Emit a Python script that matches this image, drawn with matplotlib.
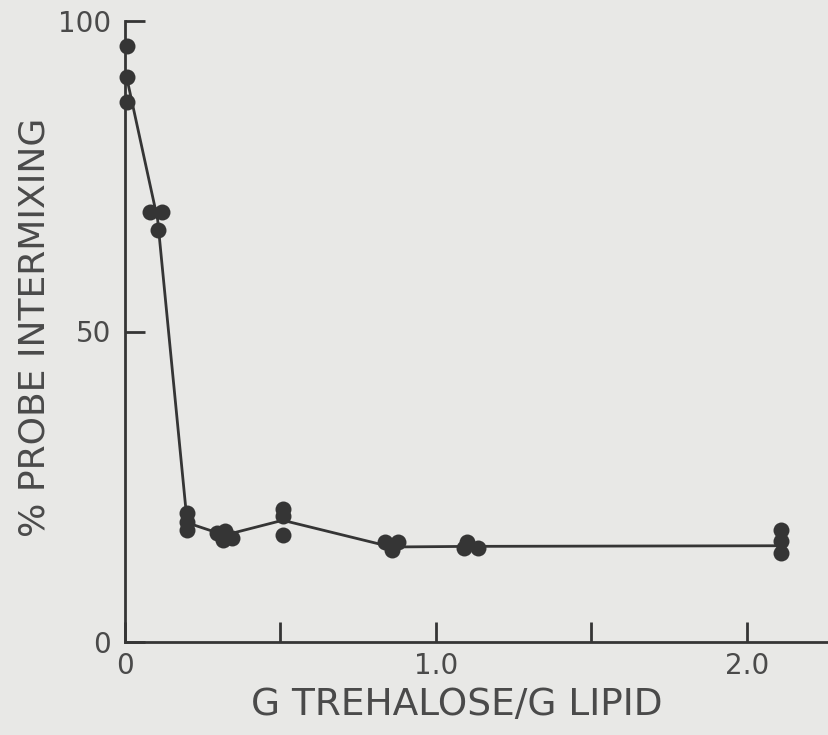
import matplotlib
matplotlib.use("Agg")
import matplotlib.pyplot as plt
import numpy as np

# individual measurements (g trehalose / g lipid, % probe intermixing)
pts_x = [0.005, 0.005, 0.005,
         0.08, 0.118, 0.107,
         0.2, 0.2, 0.2,
         0.295, 0.32, 0.315, 0.343,
         0.507, 0.507, 0.507,
         0.836, 0.879, 0.857,
         1.10, 1.09, 1.135,
         2.11, 2.11, 2.11]
pts_y = [95.9, 91.0, 87.0,
         69.3, 69.3, 66.3,
         20.8, 19.4, 18.0,
         17.5, 17.8, 16.4, 16.7,
         21.4, 20.3, 17.2,
         16.1, 16.1, 14.8,
         16.1, 15.1, 15.1,
         18.0, 16.2, 14.3]
# connecting curve (cluster means)
line_x = [0.005, 0.105, 0.2, 0.32, 0.507, 0.857, 1.11, 2.11]
line_y = [91.0, 68.0, 19.2, 17.2, 19.6, 15.3, 15.4, 15.5]

xticks = [0, 0.5, 1.0, 1.5, 2.0]
xticklabels = ["0", "", "1.0", "", "2.0"]
yticks = [0, 50, 100]
yticklabels = ["0", "50", "100"]

bg = "#e8e8e6"; ink = "#353535"; txt = "#4a4a4a"
plt.rcParams["font.family"] = ["DejaVu Sans"]

fig = plt.figure(figsize=(8.29, 7.35), dpi=100, facecolor=bg)
ax = fig.add_axes([125/829, 93/735, 704/829, 621/735], facecolor=bg)
ax.plot(line_x, line_y, color=ink, lw=2.0, clip_on=False, zorder=2)
ax.plot(pts_x, pts_y, "o", color=ink, ms=11.5, mec="none", clip_on=False, zorder=3)

ax.set_xlim(0, 704/311); ax.set_ylim(0, 100)
for s in ["top", "right"]: ax.spines[s].set_visible(False)
for s in ["left", "bottom"]: ax.spines[s].set_color(ink); ax.spines[s].set_linewidth(2.0)
ax.set_xticks(xticks, xticklabels)
ax.set_yticks(yticks, yticklabels)
ax.tick_params(direction="in", length=14.5, width=2.0, color=ink, labelsize=20, labelcolor=txt)
ax.tick_params(axis="x", pad=7)
ax.tick_params(axis="y", pad=10)
ax.set_xlabel("G TREHALOSE/G LIPID", fontsize=27, color=txt, va="center")
ax.xaxis.set_label_coords((457-125)/704, -(705-642)/621)
ax.set_ylabel("% PROBE INTERMIXING", fontsize=26, color=txt, va="center")
ax.yaxis.set_label_coords(-(125-35)/704, (642-327)/621)
fig.savefig("out.png", dpi=100, facecolor=bg)
